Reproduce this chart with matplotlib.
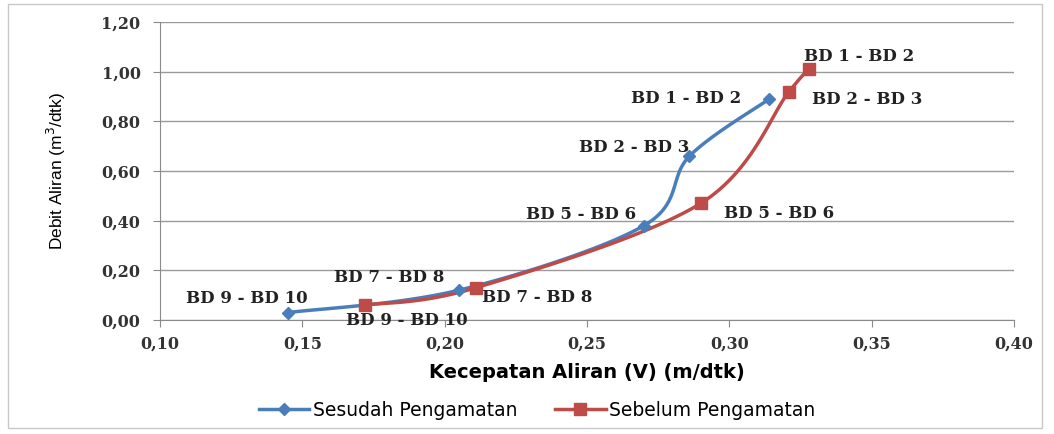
import numpy as np
import matplotlib.pyplot as plt
from matplotlib.patches import Rectangle
from matplotlib.ticker import FuncFormatter

# data
segmen = ["BD 9 - BD 10", "BD 7 - BD 8", "BD 5 - BD 6", "BD 2 - BD 3", "BD 1 - BD 2"]
v_sesudah = [0.145, 0.205, 0.270, 0.286, 0.314]
q_sesudah = [0.03, 0.12, 0.38, 0.66, 0.89]
v_sebelum = [0.172, 0.211, 0.290, 0.321, 0.328]
q_sebelum = [0.06, 0.13, 0.47, 0.92, 1.01]

biru = "#4a7ebb"
merah = "#be4b48"


def smooth(xs, ys, n=30):
    # kurva halus ala Excel (Catmull-Rom)
    p = np.column_stack([xs, ys])
    p = np.vstack([p[0], p, p[-1]])
    out = []
    for i in range(1, len(p) - 2):
        p0, p1, p2, p3 = p[i - 1], p[i], p[i + 1], p[i + 2]
        for t in np.linspace(0, 1, n):
            t2, t3 = t * t, t * t * t
            out.append(0.5 * (2 * p1 + (-p0 + p2) * t + (2 * p0 - 5 * p1 + 4 * p2 - p3) * t2
                              + (-p0 + 3 * p1 - 3 * p2 + p3) * t3))
    out = np.array(out)
    return out[:, 0], out[:, 1]


fig = plt.figure(figsize=(10.54, 4.34), dpi=100)
ax = fig.add_axes([160 / 1054, 1 - 320 / 434, 854 / 1054, 298 / 434])

# bingkai luar
fig.patches.append(Rectangle((8 / 1054, 6 / 434), 1034 / 1054, 424 / 434, transform=fig.transFigure,
                             fill=False, edgecolor="#c8c8c8", linewidth=1))

sx, sy = smooth(v_sesudah, q_sesudah)
ax.plot(sx, sy, color=biru, linewidth=2.5, zorder=3)
ax.plot(v_sesudah, q_sesudah, linestyle="none", marker="D", markersize=6, color=biru, zorder=4)
rx, ry = smooth(v_sebelum, q_sebelum)
ax.plot(rx, ry, color=merah, linewidth=2.5, zorder=3)
ax.plot(v_sebelum, q_sebelum, linestyle="none", marker="s", markersize=9, color=merah, zorder=4)

# legenda (proxy)
h1, = ax.plot([], [], color=biru, linewidth=2.5, marker="D", markersize=6)
h2, = ax.plot([], [], color=merah, linewidth=2.5, marker="s", markersize=9)
fig.legend([h1, h2], ["Sesudah Pengamatan", "Sebelum Pengamatan"], loc="center",
           bbox_to_anchor=(537 / 1054, 1 - 410 / 434), ncol=2, frameon=False,
           handlelength=2.7, handletextpad=0.2, columnspacing=2.0,
           prop={"family": "DejaVu Sans", "size": 13.5})

lab = dict(fontsize=12, fontweight="bold", family="DejaVu Serif", color="#222222")
# posisi label (center, dalam points)
offs_b = {"BD 9 - BD 10": (-30, 10), "BD 7 - BD 8": (-50, 9),
          "BD 5 - BD 6": (-45, 8), "BD 2 - BD 3": (-40, 6),
          "BD 1 - BD 2": (-60, 0)}
for name, x, y in zip(segmen, v_sesudah, q_sesudah):
    dx, dy = offs_b[name]
    ax.annotate(name, (x, y), xytext=(dx, dy), textcoords="offset points", ha="center", va="center", **lab)
offs = {"BD 9 - BD 10": (30, -11), "BD 7 - BD 8": (44, -7),
        "BD 5 - BD 6": (56, -7), "BD 2 - BD 3": (56, -6),
        "BD 1 - BD 2": (36, 9)}
for name, x, y in zip(segmen, v_sebelum, q_sebelum):
    dx, dy = offs[name]
    ax.annotate(name, (x, y), xytext=(dx, dy), textcoords="offset points", ha="center", va="center", **lab)

ax.set_xlim(0.10, 0.40)
ax.set_ylim(0, 1.2)
ax.set_xticks(np.arange(0.10, 0.401, 0.05))
ax.set_yticks(np.arange(0, 1.201, 0.2))
fmt = FuncFormatter(lambda v, p: f"{v:.2f}".replace(".", ","))
ax.xaxis.set_major_formatter(fmt)
ax.yaxis.set_major_formatter(fmt)
ax.grid(axis="y", color="#9a9a9a", linewidth=1)
ax.set_axisbelow(True)
for s in ["top", "right"]:
    ax.spines[s].set_visible(False)
for s in ["left", "bottom"]:
    ax.spines[s].set_color("#8a8a8a")
ax.tick_params(axis="both", colors="#8a8a8a", labelcolor="#333333", length=5)
for t in ax.get_xticklabels() + ax.get_yticklabels():
    t.set_family("DejaVu Serif")
    t.set_fontweight("bold")
    t.set_fontsize(11.5)
ax.tick_params(axis="x", pad=6)
ax.tick_params(axis="y", pad=9)

ax.set_xlabel("Kecepatan Aliran (V) (m/dtk)", fontsize=14, fontweight="bold", family="DejaVu Sans",
              labelpad=8)
ax.set_ylabel("Debit Aliran (m$^3$/dtk)", fontsize=12.5, family="Liberation Sans", labelpad=24)

fig.savefig("out.png", dpi=100)
